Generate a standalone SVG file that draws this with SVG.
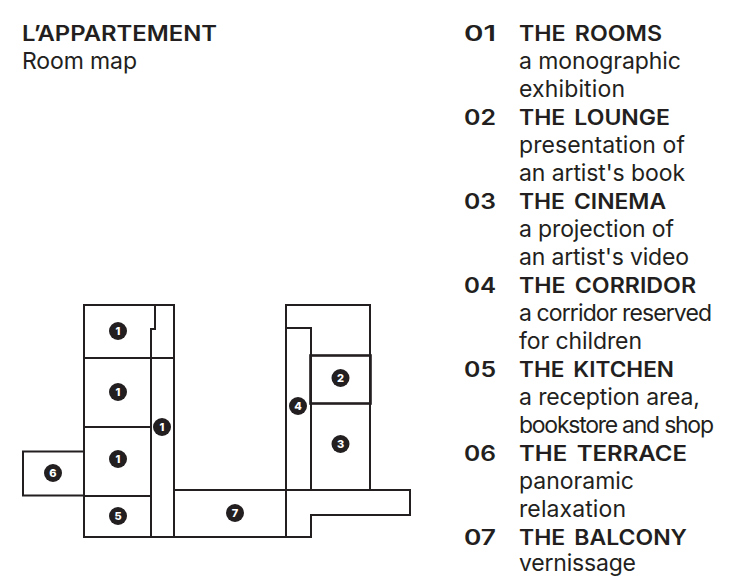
<svg xmlns="http://www.w3.org/2000/svg" width="734" height="580" viewBox="0 0 734 580">
<style>
text{fill:#231f20;font-family:"Inter","Liberation Sans",sans-serif}
.h{font-size:21px;font-weight:600;word-spacing:3px}
.n{font-size:21px;font-weight:600}
.b{font-size:23px;font-weight:400}
.w{fill:none;stroke:#231f20;stroke-width:2}
.t{stroke-width:2.600}
.d{fill:#231f20}
.l{fill:#fff;font-size:11px;font-weight:800;text-anchor:middle}
</style>
<rect width="734" height="580" fill="#fff"/>
<g id="title">
<text class="h" x="22" y="41" textLength="195" lengthAdjust="spacingAndGlyphs">L’APPARTEMENT</text>
<text class="b" x="22" y="69" textLength="115">Room map</text>
</g>
<g id="connectors">
<path class="w" d="M84 305H174V537H84ZM155 305V329H151V537M84 358H174M84 427H151M84 496H151M84 451.500H23V495.500H84"/>
<path class="w" d="M174 490H410V515H311V537H174M286 537V305H370V490M286 328H311V490"/>
<rect class="w t" x="310.500" y="355.500" width="60" height="48"/>
</g>
<g id="node-1a"><circle class="d" cx="118" cy="331" r="9"/><text class="l" x="118" y="335">1</text></g>
<g id="node-1b"><circle class="d" cx="118" cy="392" r="9"/><text class="l" x="118" y="396">1</text></g>
<g id="node-1c"><circle class="d" cx="118" cy="459" r="9"/><text class="l" x="118" y="463">1</text></g>
<g id="node-1d"><circle class="d" cx="162" cy="427" r="9"/><text class="l" x="162" y="431">1</text></g>
<g id="node-6"><circle class="d" cx="53" cy="473" r="9"/><text class="l" x="53" y="477">6</text></g>
<g id="node-5"><circle class="d" cx="118" cy="516" r="9"/><text class="l" x="118" y="520">5</text></g>
<g id="node-7"><circle class="d" cx="235" cy="513" r="9"/><text class="l" x="235" y="517">7</text></g>
<g id="node-2"><circle class="d" cx="340.500" cy="378" r="9"/><text class="l" x="340.500" y="382">2</text></g>
<g id="node-3"><circle class="d" cx="340.500" cy="444" r="9"/><text class="l" x="340.500" y="448">3</text></g>
<g id="node-4"><circle class="d" cx="298" cy="406" r="9"/><text class="l" x="298" y="410">4</text></g>
<g id="legend">
<text class="n" x="464" y="41" textLength="32" lengthAdjust="spacingAndGlyphs">01</text><text class="h" x="519" y="41" textLength="143" lengthAdjust="spacingAndGlyphs">THE ROOMS</text>
<text class="b" x="519" y="69" textLength="162">a monographic</text><text class="b" x="519" y="97" textLength="106">exhibition</text>
<text class="n" x="464" y="125" textLength="32" lengthAdjust="spacingAndGlyphs">02</text><text class="h" x="519" y="125" textLength="151" lengthAdjust="spacingAndGlyphs">THE LOUNGE</text>
<text class="b" x="519" y="153" textLength="166">presentation of</text><text class="b" x="519" y="181" textLength="166">an artist's book</text>
<text class="n" x="464" y="209" textLength="32" lengthAdjust="spacingAndGlyphs">03</text><text class="h" x="519" y="209" textLength="147" lengthAdjust="spacingAndGlyphs">THE CINEMA</text>
<text class="b" x="519" y="237" textLength="155">a projection of</text><text class="b" x="519" y="265" textLength="170">an artist's video</text>
<text class="n" x="464" y="293" textLength="32" lengthAdjust="spacingAndGlyphs">04</text><text class="h" x="519" y="293" textLength="177" lengthAdjust="spacingAndGlyphs">THE CORRIDOR</text>
<text class="b" x="519" y="321" textLength="193">a corridor reserved</text><text class="b" x="519" y="349" textLength="123">for children</text>
<text class="n" x="464" y="377" textLength="32" lengthAdjust="spacingAndGlyphs">05</text><text class="h" x="519" y="377" textLength="155" lengthAdjust="spacingAndGlyphs">THE KITCHEN</text>
<text class="b" x="519" y="405" textLength="181">a reception area,</text><text class="b" x="519" y="433" textLength="195">bookstore and shop</text>
<text class="n" x="464" y="461" textLength="32" lengthAdjust="spacingAndGlyphs">06</text><text class="h" x="519" y="461" textLength="168" lengthAdjust="spacingAndGlyphs">THE TERRACE</text>
<text class="b" x="519" y="489" textLength="115">panoramic</text><text class="b" x="519" y="517" textLength="107">relaxation</text>
<text class="n" x="464" y="545" textLength="32" lengthAdjust="spacingAndGlyphs">07</text><text class="h" x="519" y="545" textLength="168" lengthAdjust="spacingAndGlyphs">THE BALCONY</text>
<text class="b" x="519" y="571" textLength="117">vernissage</text>
</g>
</svg>
